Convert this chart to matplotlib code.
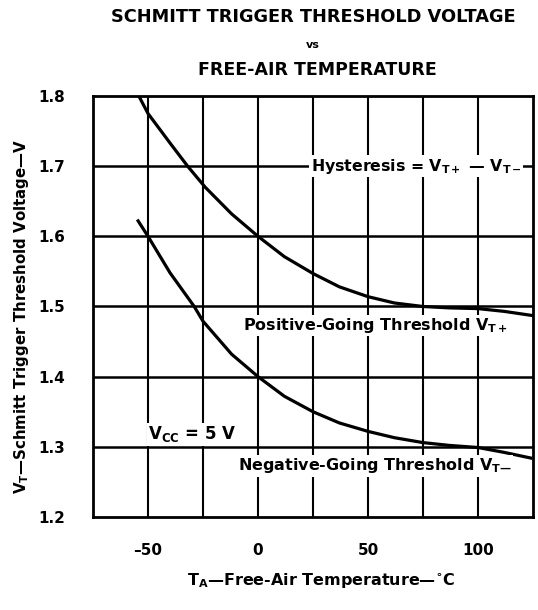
import numpy as np
import matplotlib
matplotlib.use('Agg')
import matplotlib.pyplot as plt

plt.rcParams['font.family'] = ['DejaVu Sans']
plt.rcParams['font.weight'] = 'bold'
plt.rcParams['mathtext.fontset'] = 'custom'
plt.rcParams['mathtext.rm'] = 'DejaVu Sans:bold'
plt.rcParams['mathtext.it'] = 'DejaVu Sans:bold'
plt.rcParams['mathtext.bf'] = 'DejaVu Sans:bold'

# 正向阈值 V_T+
temp_pos = [-54, -50, -40, -32, -24, -12, 0, 12, 25, 37, 50, 62, 75, 87, 100, 112, 125]
vt_pos = [1.799, 1.775, 1.733, 1.70, 1.670, 1.632, 1.60, 1.571, 1.547, 1.528, 1.514,
          1.505, 1.500, 1.498, 1.497, 1.493, 1.487]

# 负向阈值 V_T-
temp_neg = [-54.5, -50, -40, -29, -25, -12, 0, 12, 25, 37, 50, 62, 75, 87, 100, 112, 124]
vt_neg = [1.622, 1.60, 1.548, 1.50, 1.479, 1.432, 1.40, 1.372, 1.350, 1.334, 1.322,
          1.313, 1.306, 1.302, 1.299, 1.292, 1.284]

x_grid = [-50, -25, 0, 25, 50, 75, 100]
y_grid = [1.3, 1.4, 1.5, 1.6, 1.7]
x_ticks = [-50, 0, 50, 100]
x_ticklabels = ['–50', '0', '50', '100']
y_ticks = [1.2, 1.3, 1.4, 1.5, 1.6, 1.7, 1.8]

fig = plt.figure(figsize=(5.38, 6.10), dpi=100)
ax = fig.add_axes([0.1729, 0.1525, 0.8178, 0.6901])

for xv in x_grid:
    ax.axvline(xv, color='black', linewidth=1.5, zorder=1)
for yv in y_grid:
    ax.axhline(yv, color='black', linewidth=1.8, zorder=1)

ax.plot(temp_pos, vt_pos, color='black', linewidth=2.3, zorder=3)
ax.plot(temp_neg, vt_neg, color='black', linewidth=2.3, zorder=3)

ax.set_xlim(-75, 125)
ax.set_ylim(1.2, 1.8)
ax.set_xticks(x_ticks)
ax.set_xticklabels(x_ticklabels)
ax.set_yticks(y_ticks)
ax.set_yticklabels(['%.1f' % v for v in y_ticks])
ax.tick_params(length=0, labelsize=11, pad=19)
ax.tick_params(axis='y', pad=20)
for sp in ax.spines.values():
    sp.set_linewidth(2)

box = dict(facecolor='white', edgecolor='none', pad=1)
ax.text(24, 1.70, r'Hysteresis = V$_{\mathrm{T+}}$ — V$_{\mathrm{T-}}$',
        fontsize=11.3, ha='left', va='center', bbox=box, zorder=4)
ax.text(-7, 1.473, r'Positive-Going Threshold V$_{\mathrm{T+}}$', fontsize=11.5,
        ha='left', va='center', bbox=box, zorder=4)
ax.text(-50, 1.318, r'V$_{\mathrm{CC}}$ = 5 V', fontsize=12,
        ha='left', va='center', bbox=box, zorder=4)
ax.text(-9, 1.273, r'Negative-Going Threshold V$_{\mathrm{T—}}$',
        fontsize=11.5, ha='left', va='center', bbox=box, zorder=4)

fig.text(0.582, 0.972, 'SCHMITT TRIGGER THRESHOLD VOLTAGE', fontsize=12.8,
         ha='center', va='center')
fig.text(0.582, 0.927, 'vs', fontsize=8, ha='center', va='center')
fig.text(0.59, 0.885, 'FREE-AIR TEMPERATURE', fontsize=12.5, ha='center', va='center')

fig.text(0.597, 0.049, r'T$_{\mathrm{A}}$—Free-Air Temperature—$^{\circ}$C',
         fontsize=11.5, ha='center', va='center')
fig.text(0.04, 0.482, r'V$_{\mathrm{T}}$—Schmitt Trigger Threshold Voltage—V',
         fontsize=10.8, ha='center', va='center', rotation=90)

fig.savefig('out.png', dpi=100)
